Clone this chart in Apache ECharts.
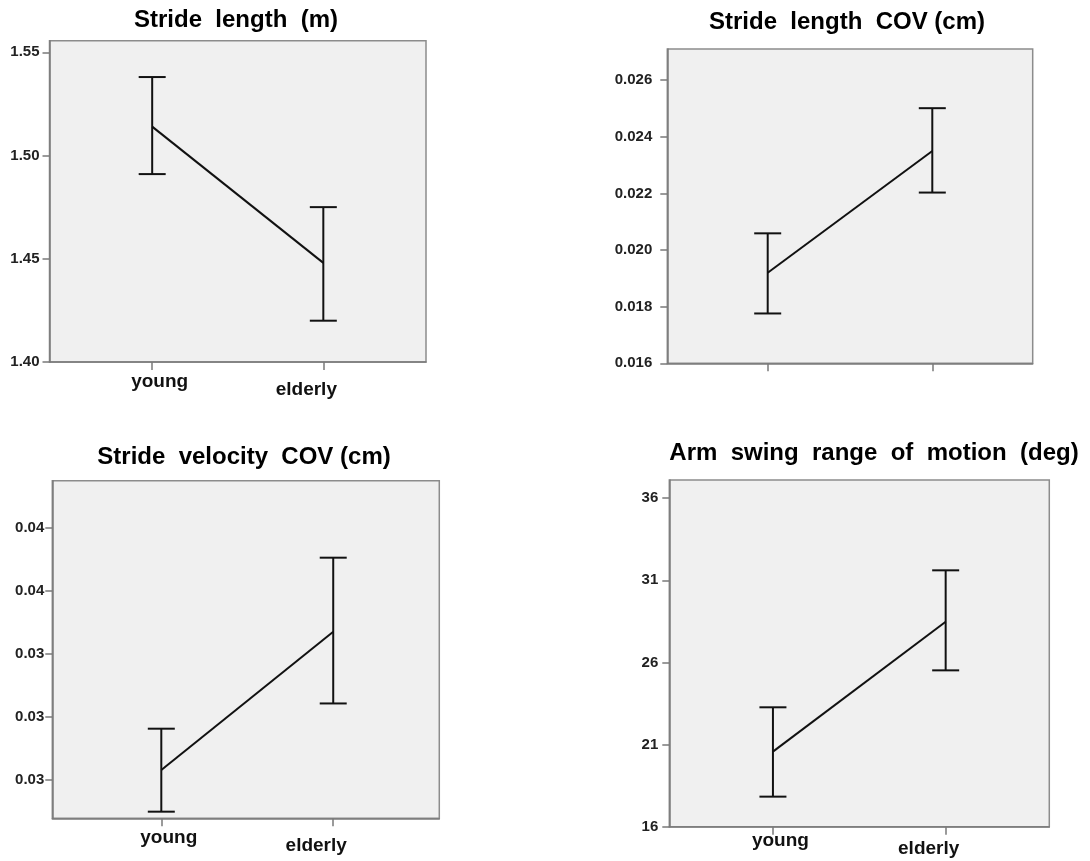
<!DOCTYPE html>
<html>
<head>
<meta charset="utf-8">
<script src="https://cdn.jsdelivr.net/npm/echarts@6/dist/echarts.min.js"></script>
<style>
html,body{margin:0;padding:0;background:#fff;}
#chart{width:1090px;height:861px;}
</style>
</head>
<body>
<div id="chart"></div>
<script>
// ---- data ----
const groups = ['young', 'elderly'];
const groupPos = [0, 1];

const titles = ['Stride  length  (m)', 'Stride  length  COV (cm)', 'Stride  velocity  COV (cm)', 'Arm  swing  range  of  motion  (deg)'];

const strideLenMean = [1.514, 1.448];
const strideLenLo   = [1.491, 1.420];
const strideLenHi   = [1.538, 1.475];

const strideLenCovMean = [0.0192, 0.0235];
const strideLenCovLo   = [0.01776, 0.02203];
const strideLenCovHi   = [0.02059, 0.02501];

const strideVelCovMean = [0.03032, 0.0347];
const strideVelCovLo   = [0.02900, 0.03243];
const strideVelCovHi   = [0.03163, 0.03705];

const armSwingMean = [20.57, 28.48];
const armSwingLo   = [17.83, 25.52];
const armSwingHi   = [23.27, 31.61];

const yTicks1 = [1.40, 1.45, 1.50, 1.55];
const yTicks2 = [0.016, 0.018, 0.020, 0.022, 0.024, 0.026];
const yTicks3 = [0.030, 0.032, 0.034, 0.036, 0.038];
const yTicks4 = [16, 21, 26, 31, 36];

// ---- layout / style ----
const panels = [
  {grid:{left:49.5, top:40.7, width:376.5, height:321.3}, ymin:1.40, ymax:1.5556, ticks:yTicks1, dec:2,
   mean:strideLenMean, lo:strideLenLo, hi:strideLenHi, xmin:-0.6, xmax:1.6, showX:true, xMargin:10, yMargin:10,
   title:{x:236, y:8}},
  {grid:{left:667.3, top:49, width:365.4, height:314.3}, ymin:0.016, ymax:0.0271, ticks:yTicks2, dec:3,
   mean:strideLenCovMean, lo:strideLenCovLo, hi:strideLenCovHi, xmin:-0.61, xmax:1.61, showX:false, xMargin:10, yMargin:15,
   title:{x:847, y:10}},
  {grid:{left:52.3, top:480.7, width:387, height:337.6}, ymin:0.02879, ymax:0.03949, ticks:yTicks3, dec:2,
   mean:strideVelCovMean, lo:strideVelCovLo, hi:strideVelCovHi, xmin:-0.634, xmax:1.617, showX:true, xMargin:10, yMargin:8,
   title:{x:244, y:445}},
  {grid:{left:669.3, top:480, width:380, height:346.7}, ymin:16, ymax:37.11, ticks:yTicks4, dec:0,
   mean:armSwingMean, lo:armSwingLo, hi:armSwingHi, xmin:-0.6, xmax:1.6, showX:true, xMargin:5, yMargin:11,
   title:{x:874, y:441}}
];

const axisColor = '#7a7a7a';
const inkColor = '#111';
const fontFam = 'Liberation Sans, Arial, sans-serif';

function errRender(params, api) {
  const x = api.value(0), lo = api.value(1), hi = api.value(2);
  const pLo = api.coord([x, lo]);
  const pHi = api.coord([x, hi]);
  const half = 13.5;
  const st = {stroke: inkColor, lineWidth: 2};
  return {type:'group', children:[
    {type:'line', shape:{x1:pLo[0], y1:pLo[1], x2:pHi[0], y2:pHi[1]}, style:st},
    {type:'line', shape:{x1:pHi[0]-half, y1:pHi[1], x2:pHi[0]+half, y2:pHi[1]}, style:st},
    {type:'line', shape:{x1:pLo[0]-half, y1:pLo[1], x2:pLo[0]+half, y2:pLo[1]}, style:st}
  ]};
}

const option = {
  backgroundColor:'#ffffff',
  animation:false,
  title: panels.map((p,i)=>({
    text: titles[i], left: p.title.x, top: p.title.y, textAlign:'center', padding:0,
    textStyle:{fontFamily:fontFam, fontWeight:'bold', fontSize:24, color:'#000'}
  })),
  grid: panels.map(p=>Object.assign({show:true, backgroundColor:'#f0f0f0', borderColor:'#8c8c8c', borderWidth:1.5, containLabel:false}, p.grid)),
  xAxis: panels.map((p,i)=>({
    type:'value', gridIndex:i, min:p.xmin, max:p.xmax,
    splitLine:{show:false},
    axisLine:{show:true, onZero:false, lineStyle:{color:axisColor, width:1.5}},
    axisTick:{show:true, customValues:groupPos, length:8, lineStyle:{color:axisColor, width:1.5}},
    axisLabel:{show:p.showX, customValues:groupPos, margin:p.xMargin,
      formatter:(v)=> (Math.round(v)===0 ? '{a|'+groups[0]+'}' : '{b|'+groups[1]+'}'),
      rich:{
        a:{fontFamily:fontFam, fontWeight:'bold', fontSize:19, color:'#111', padding:[0,0,0,15]},
        b:{fontFamily:fontFam, fontWeight:'bold', fontSize:19, color:'#111', padding:[8,34,0,0]}
      }}
  })),
  yAxis: panels.map((p,i)=>({
    type:'value', gridIndex:i, min:p.ymin, max:p.ymax,
    splitLine:{show:false},
    axisLine:{show:true, onZero:false, lineStyle:{color:axisColor, width:1.5}},
    axisTick:{show:true, customValues:p.ticks, length:7, lineStyle:{color:axisColor, width:1.5}},
    axisLabel:{show:true, customValues:p.ticks, margin:p.yMargin,
      formatter:(v)=>Number(v).toFixed(p.dec),
      fontFamily:fontFam, fontWeight:'bold', fontSize:15, color:'#222'}
  })),
  series: [].concat(...panels.map((p,i)=>[
    {type:'line', xAxisIndex:i, yAxisIndex:i, data:groupPos.map((x,k)=>[x, p.mean[k]]),
     symbol:'none', lineStyle:{color:inkColor, width:2}, z:3},
    {type:'custom', xAxisIndex:i, yAxisIndex:i, renderItem:errRender,
     data:groupPos.map((x,k)=>[x, p.lo[k], p.hi[k]]), z:4}
  ]))
};

const chart = echarts.init(document.getElementById('chart'), null, {renderer:'canvas', width:1090, height:861});
chart.setOption(option);
</script>
</body>
</html>
